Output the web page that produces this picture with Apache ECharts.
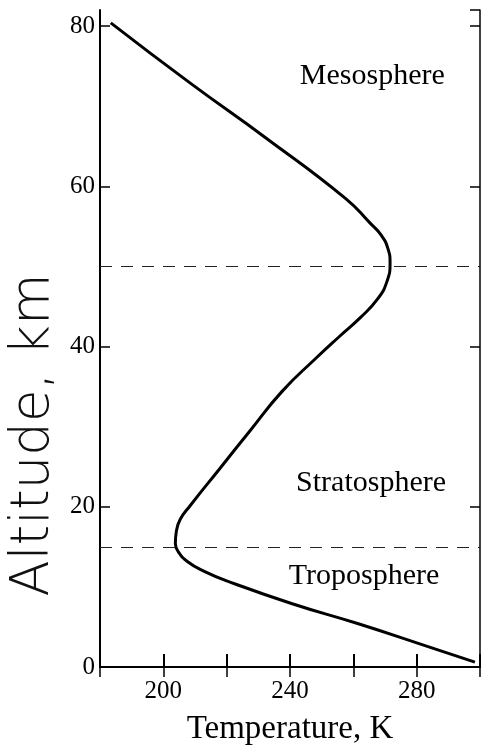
<!DOCTYPE html>
<html>
<head>
<meta charset="utf-8">
<script src="https://cdn.jsdelivr.net/npm/echarts@6/dist/echarts.min.js"></script>
<style>
  html, body { margin: 0; padding: 0; background: #fff; }
  #chart { width: 483px; height: 751px; }
</style>
</head>
<body>
<div id="chart"></div>
<script>
// temperature profile (altitude km -> temperature K)
var altitude = [0.6, 2.7, 5.4, 7.9, 10.75, 11.9, 13.1, 14.4, 15.4, 16.9, 18.4, 20.1, 24.75, 29.4, 34.4, 38.5, 41.25, 43.6, 46, 48.1, 50.4, 52.25, 53.9, 55.4, 58.5, 66, 72.9, 80.4]
var temperature = [298.4, 282.4, 261.6, 240.7, 220, 213.1, 207.8, 204.7, 203.8, 204.1, 205.3, 208.4, 217.8, 227.2, 237.5, 248.1, 255.6, 262.2, 267.8, 270.6, 271.6, 270.9, 268.8, 265.3, 257.5, 232.5, 208.4, 183.4]
var boundaries = [50, 15]
var layers = ['Mesosphere', 'Stratosphere', 'Troposphere']

var serif = 'Liberation Serif'
var chart = echarts.init(document.getElementById('chart'))

var pts = []
for (let i in altitude) pts.push([temperature[i], altitude[i]])

var layerPos = [[266, 73.7], [265.6, 22.9], [263.4, 11.4]]

chart.setOption({
  animation: false,
  grid: { left: 100, right: 1, top: 10, bottom: 83 },
  xAxis: [{
    type: 'value', min: 180, max: 300, interval: 20, position: 'bottom',
    axisLine: { lineStyle: { color: '#000', width: 2 } },
    axisTick: { inside: true, length: 13, lineStyle: { color: '#000', width: 2 } },
    axisLabel: { formatter: function (v) { return v % 40 === 0 ? v : '' },
      fontFamily: serif, fontSize: 25, color: '#000', margin: 12 },
    splitLine: { show: false },
    name: 'Temperature, K', nameLocation: 'middle', nameGap: 46,
    nameTextStyle: { fontFamily: serif, fontSize: 33, color: '#000' }
  }, {
    type: 'value', min: 180, max: 300, interval: 20, position: 'top',
    axisLine: { lineStyle: { color: '#000', width: 1.5 } },
    axisTick: { inside: true, length: 10, lineStyle: { color: '#000', width: 1.5 } },
    axisLabel: { show: false },
    splitLine: { show: false }
  }],
  yAxis: [{
    type: 'value', min: 0, max: 82, interval: 20, position: 'left',
    axisLine: { show: true, lineStyle: { color: '#000', width: 2 } },
    axisTick: { show: true, inside: true, length: 10, lineStyle: { color: '#000', width: 1.5 } },
    axisLabel: { fontFamily: serif, fontSize: 25, color: '#000', margin: 5 },
    splitLine: { show: false }
  }, {
    type: 'value', min: 0, max: 82, interval: 20, position: 'right',
    axisLine: { show: true, lineStyle: { color: '#000', width: 1.5 } },
    axisTick: { show: true, inside: true, length: 10, lineStyle: { color: '#000', width: 1.5 } },
    axisLabel: { show: false },
    splitLine: { show: false }
  }],
  graphic: [{
    type: 'text', x: 34, y: 435, rotation: Math.PI / 2,
    style: { text: 'Altitude, km', font: '200 53px "DejaVu Sans"', fill: '#111',
      align: 'center', verticalAlign: 'middle' }
  }],
  series: [{
    type: 'line',
    data: pts,
    showSymbol: false,
    smooth: 0.5,
    lineStyle: { color: '#000', width: 3 },
    markLine: {
      silent: true, symbol: 'none',
      label: { show: false },
      lineStyle: { color: '#222', width: 1.2, type: [12, 9] },
      data: boundaries.map(function (b) { return { yAxis: b } })
    },
    markPoint: {
      silent: true, symbol: 'circle', symbolSize: 0,
      label: { show: true, position: 'inside', formatter: '{b}',
        fontFamily: serif, fontSize: 30, color: '#000' },
      data: layers.map(function (n, i) { return { name: n, coord: layerPos[i] } })
    }
  }]
})
</script>
</body>
</html>
